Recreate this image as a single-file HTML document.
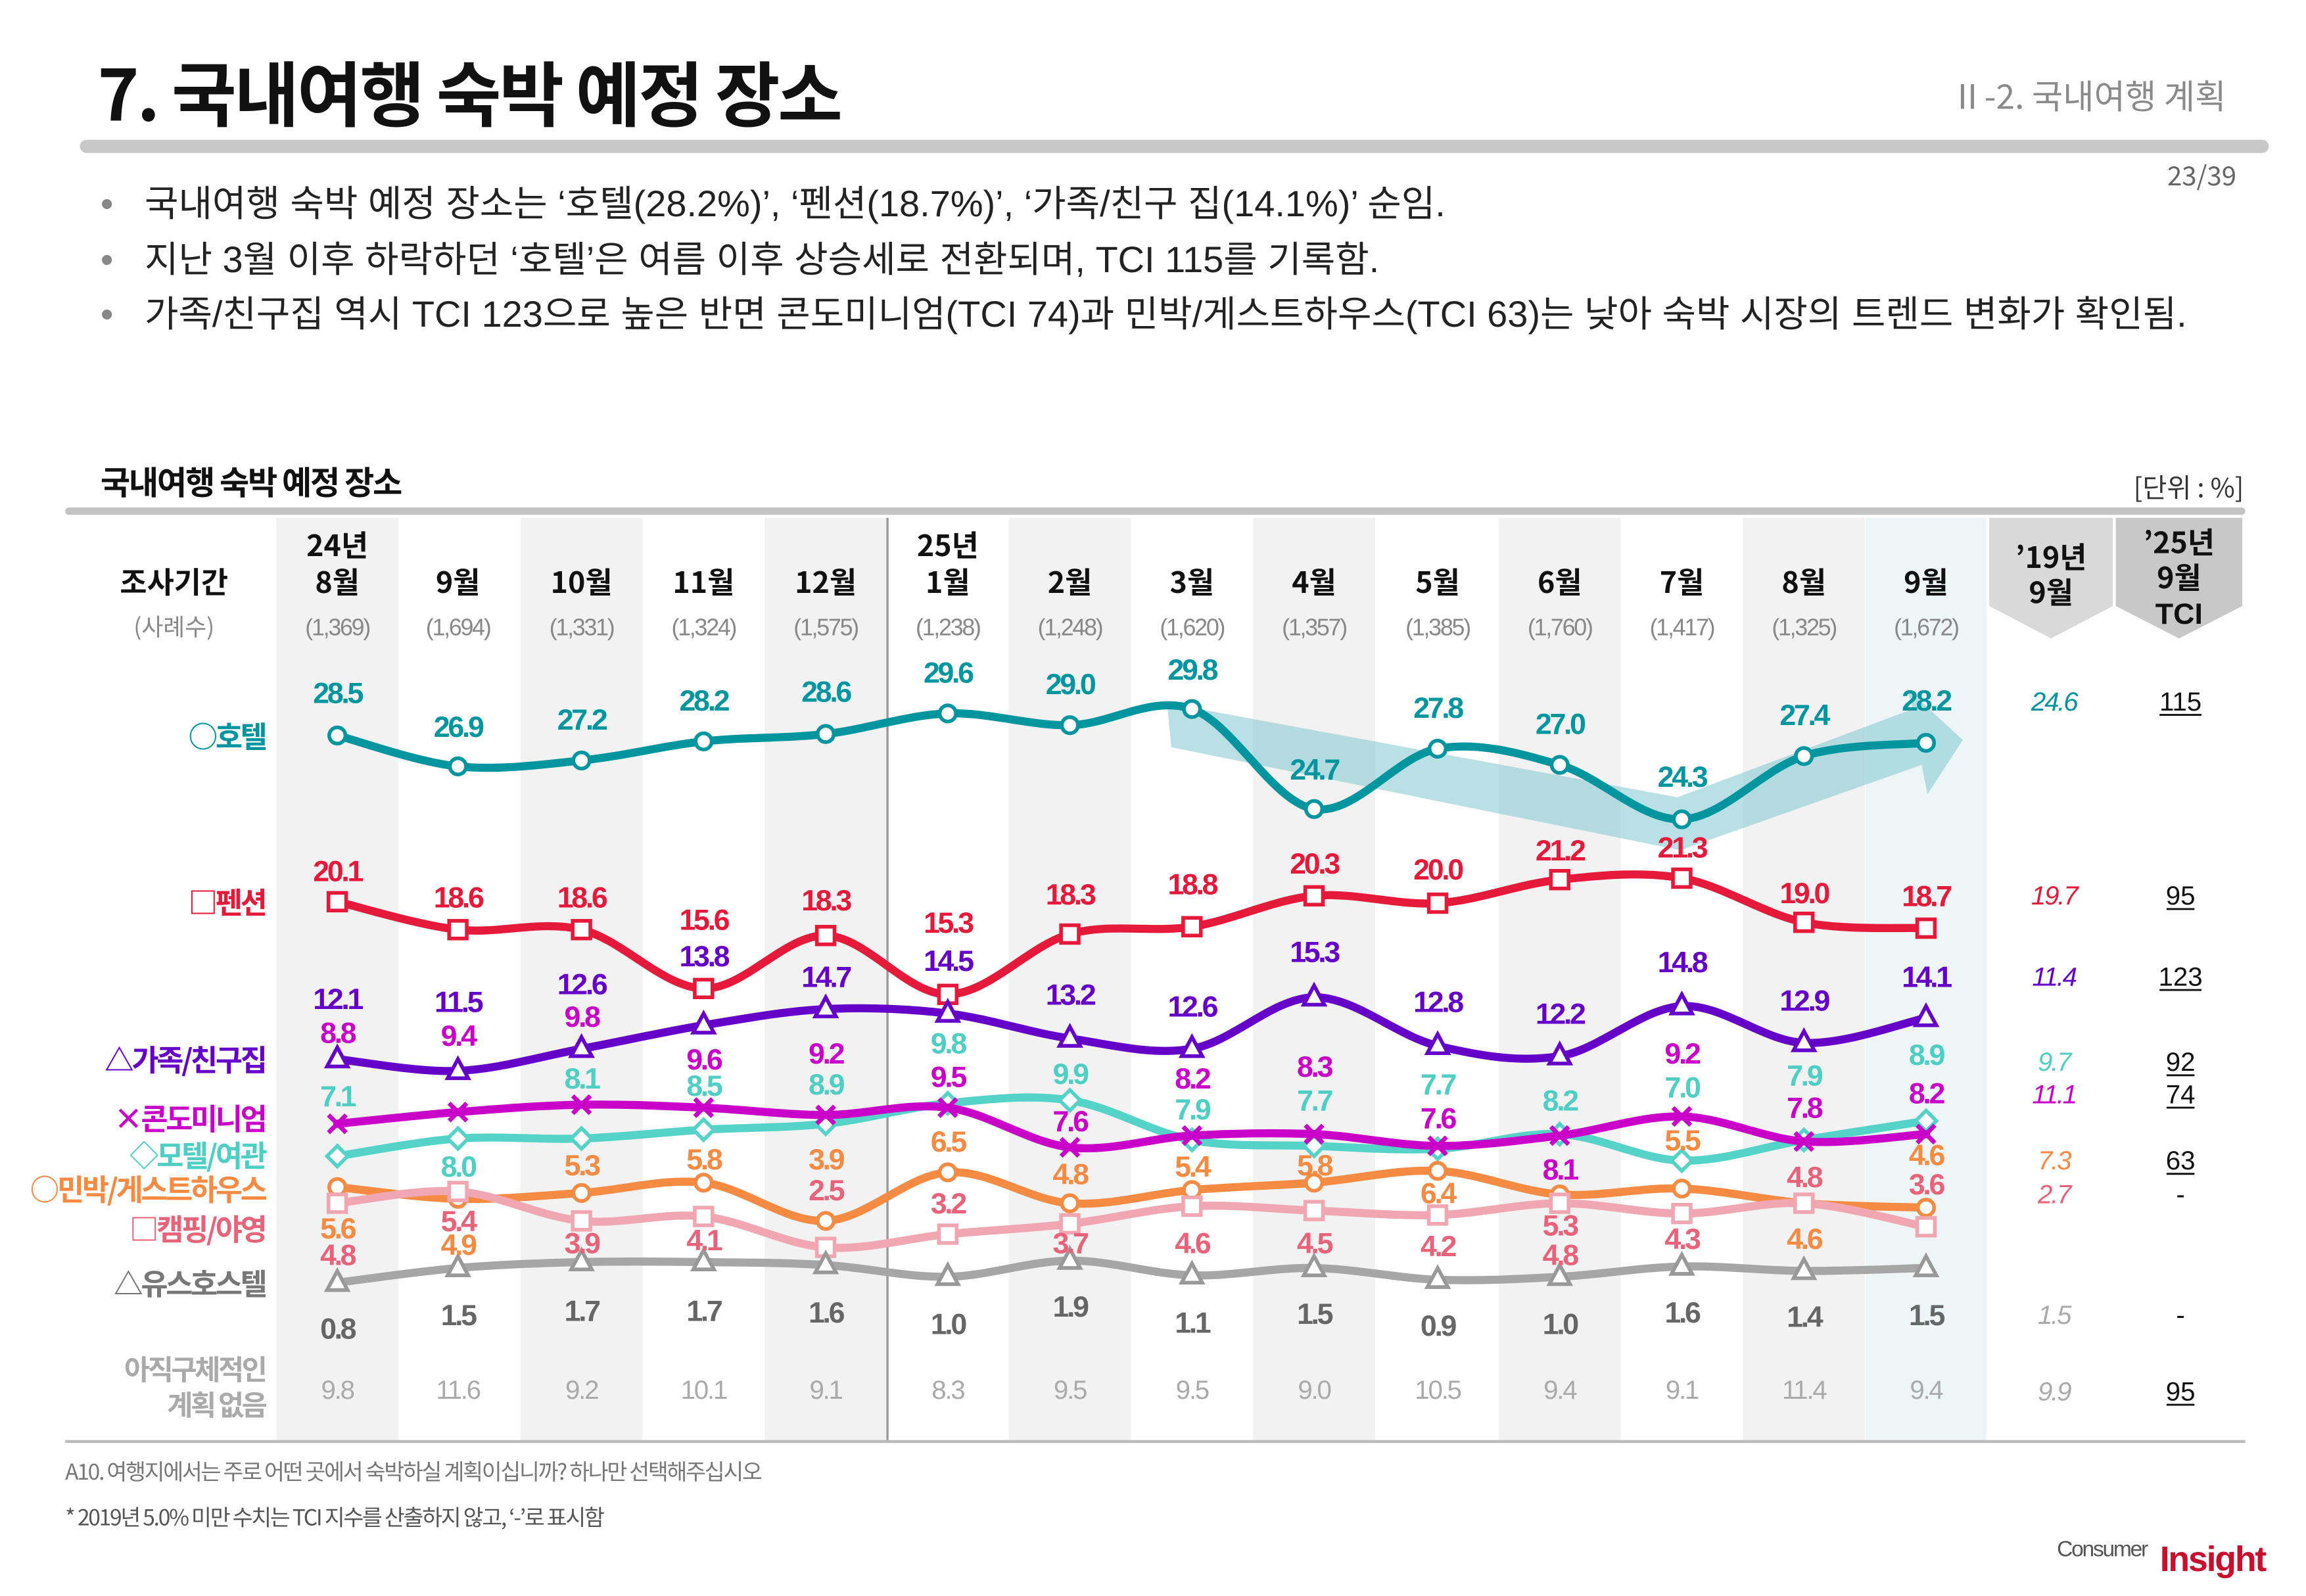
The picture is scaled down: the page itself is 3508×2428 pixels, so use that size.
<!DOCTYPE html>
<html><head><meta charset="utf-8">
<style>
html,body{margin:0;padding:0;background:#fff;}
svg{display:block;}
text{font-family:"Liberation Sans","Noto Sans CJK KR",sans-serif;}
.k{font-family:"Noto Sans CJK KR","Liberation Sans",sans-serif;}
</style></head>
<body>
<svg id="s" width="3508" height="2428" viewBox="0 0 1567 1085" xmlns="http://www.w3.org/2000/svg">
<rect width="1567" height="1085" fill="#fff"/>
<g id="bg"></g>
<text x="66" y="82" font-size="48" font-weight="bold" class="k" fill="#111" letter-spacing="-1.5">7. 국내여행 숙박 예정 장소</text>
<text x="1513" y="74" font-size="23" text-anchor="end" class="k" fill="#8a8a8a">Ⅱ-2. 국내여행 계획</text>
<rect x="54" y="95" width="1488" height="9" rx="4.5" fill="#c8c8c8"/>
<text x="1520" y="126" font-size="18" text-anchor="end" class="k" fill="#666">23/39</text>
<g class="k" font-size="25" fill="#222">
<text x="68" y="147" fill="#888">•</text><text x="98" y="147">국내여행 숙박 예정 장소는 ‘호텔(28.2%)’, ‘펜션(18.7%)’, ‘가족/친구 집(14.1%)’ 순임.</text>
<text x="68" y="185" fill="#888">•</text><text x="98" y="185">지난 3월 이후 하락하던 ‘호텔’은 여름 이후 상승세로 전환되며, TCI 115를 기록함.</text>
<text x="68" y="222" fill="#888">•</text><text x="98" y="222">가족/친구집 역시 TCI 123으로 높은 반면 콘도미니엄(TCI 74)과 민박/게스트하우스(TCI 63)는 낮아 숙박 시장의 트렌드 변화가 확인됨.</text>
</g>
<text x="68" y="336" font-size="22" font-weight="bold" class="k" fill="#111" letter-spacing="-1">국내여행 숙박 예정 장소</text>
<text x="1525" y="338" font-size="18" text-anchor="end" class="k" fill="#333">[단위 : %]</text>
<g id="g"></g>
</svg>
<script>
const NS="http://www.w3.org/2000/svg";
const bg=document.getElementById('bg'), g=document.getElementById('g');
function el(p,t,a,txt){const e=document.createElementNS(NS,t);for(const k in a)e.setAttribute(k,a[k]);if(txt!==undefined)e.textContent=txt;p.appendChild(e);return e;}
const X=[229,311,395,478,561,644,727,810,893,977,1060,1143,1226,1309];
for(let i=0;i<14;i++){
  const x0=X[i]-41.5;
  if(i==13) el(bg,'rect',{x:1268,y:352,width:82,height:628,fill:'#edf5f6'});
  else if(i%2==0) el(bg,'rect',{x:x0,y:352,width:83,height:628,fill:'#f2f2f2'});
}
el(bg,'polygon',{points:'1352,352 1436,352 1436,412 1394,434 1352,412',fill:'#d9d9d9'});
el(bg,'polygon',{points:'1438,352 1524,352 1524,412 1481,434 1438,412',fill:'#c8c8c8'});
el(bg,'rect',{x:44,y:345,width:1482,height:5,rx:2.5,fill:'#c4c4c4'});
el(bg,'line',{x1:603,y1:352,x2:603,y2:980,stroke:'#999','stroke-width':1.5});
el(bg,'line',{x1:44,y1:980,x2:1526,y2:980,stroke:'#bbb','stroke-width':2});
el(g,'text',{x:118,y:403,'font-size':20,'font-weight':'bold','text-anchor':'middle',class:'k',fill:'#111'},'조사기간');
el(g,'text',{x:118,y:432,'font-size':16,'text-anchor':'middle',class:'k',fill:'#888'},'(사례수)');
const M=['8월','9월','10월','11월','12월','1월','2월','3월','4월','5월','6월','7월','8월','9월'];
const N=['1,369','1,694','1,331','1,324','1,575','1,238','1,248','1,620','1,357','1,385','1,760','1,417','1,325','1,672'];
X.forEach((x,i)=>{
  el(g,'text',{x:x,y:403,'font-size':20,'font-weight':'bold','text-anchor':'middle',class:'k',fill:'#111'},M[i]);
  if(i==0||i==5) el(g,'text',{x:x,y:378,'font-size':20,'font-weight':'bold','text-anchor':'middle',class:'k',fill:'#111'},i==0?'24년':'25년');
  el(g,'text',{x:x,y:432,'font-size':16,'text-anchor':'middle',fill:'#888','letter-spacing':'-1'},'('+N[i]+')');
});
el(g,'text',{x:1394,y:386,'font-size':20,'font-weight':'bold','text-anchor':'middle',class:'k',fill:'#111'},'’19년');
el(g,'text',{x:1394,y:410,'font-size':20,'font-weight':'bold','text-anchor':'middle',class:'k',fill:'#111'},'9월');
el(g,'text',{x:1481,y:376,'font-size':20,'font-weight':'bold','text-anchor':'middle',class:'k',fill:'#111'},'’25년');
el(g,'text',{x:1481,y:400,'font-size':20,'font-weight':'bold','text-anchor':'middle',class:'k',fill:'#111'},'9월');
el(g,'text',{x:1481,y:424,'font-size':20,'font-weight':'bold','text-anchor':'middle',fill:'#111'},'TCI');
el(g,'polygon',{points:'793,478 1140,542 1300,482 1296,468 1334,503 1310,540 1306,520 1142,578 796,508',fill:'#7fc6cf','fill-opacity':0.55});
const S=[
 {c:'#00959f',m:'o',y:[500,521,517,504,499,485,493,482,550,509,520,557,514,505]},
 {c:'#e5193a',m:'s',y:[613,632,632,672,636,676,635,630,609,614,598,597,627,631]},
 {c:'#6500c8',m:'t',y:[720,728,713,697,686,689,706,713,678,711,718,684,709,692]},
 {c:'#55d3c8',m:'d',y:[786,774,774,768,764,750,748,775,779,781,771,789,775,762]},
 {c:'#f58a42',m:'o',y:[807,815,811,804,830,797,818,809,804,796,812,808,818,821]},
 {c:'#f1a7b2',m:'s',y:[818,810,830,827,848,839,832,820,823,826,818,825,818,834]},
 {c:'#c800c8',m:'x',y:[764,756,751,753,758,753,780,772,771,779,772,759,776,771]},
 {c:'#a6a6a6',m:'t',y:[872,862,858,858,860,868,857,867,862,870,868,861,864,862]},
];
function path(ys){let d='M'+X[0]+','+ys[0];for(let i=0;i<13;i++){const p0=[X[Math.max(i-1,0)],ys[Math.max(i-1,0)]],p1=[X[i],ys[i]],p2=[X[i+1],ys[i+1]],p3=[X[Math.min(i+2,13)],ys[Math.min(i+2,13)]];const t=6;d+=` C${p1[0]+(p2[0]-p0[0])/t},${p1[1]+(p2[1]-p0[1])/t} ${p2[0]-(p3[0]-p1[0])/t},${p2[1]-(p3[1]-p1[1])/t} ${p2[0]},${p2[1]}`;}return d;}
S.forEach(s=>{
  el(g,'path',{d:path(s.y),fill:'none',stroke:s.c,'stroke-width':5.5,'stroke-linecap':'round'});
  X.forEach((x,i)=>{const y=s.y[i];
    if(s.m=='o') el(g,'circle',{cx:x,cy:y,r:5.5,fill:'#fff',stroke:s.c,'stroke-width':2.5});
    if(s.m=='s') el(g,'rect',{x:x-6,y:y-6,width:12,height:12,fill:'#fff',stroke:s.c,'stroke-width':2.5});
    if(s.m=='t') el(g,'polygon',{points:`${x},${y-8} ${x+7},${y+5} ${x-7},${y+5}`,fill:'#fff',stroke:s.c==='#a6a6a6'?'#999':s.c,'stroke-width':2.5});
    if(s.m=='d') el(g,'polygon',{points:`${x},${y-7} ${x+7},${y} ${x},${y+7} ${x-7},${y}`,fill:'#fff',stroke:s.c,'stroke-width':2.5});
    if(s.m=='x'){el(g,'path',{d:`M${x-6},${y-6}L${x+6},${y+6}M${x+6},${y-6}L${x-6},${y+6}`,stroke:s.c,'stroke-width':3});}
  });
});
function L(c,arr){arr.forEach(a=>el(g,'text',{x:a[0],y:a[1]+7,'font-size':20,'font-weight':'bold','text-anchor':'middle',fill:c,'letter-spacing':'-1.5'},a[2]));}
const HT=[[471,'28.5'],[494,'26.9'],[489,'27.2'],[476,'28.2'],[470,'28.6'],[457,'29.6'],[465,'29.0'],[455,'29.8'],[523,'24.7'],[481,'27.8'],[492,'27.0'],[528,'24.3'],[486,'27.4'],[476,'28.2']];
L('#00959f',HT.map((a,i)=>[X[i],a[0],a[1]]));
const PE=[[592,'20.1'],[610,'18.6'],[610,'18.6'],[625,'15.6'],[612,'18.3'],[627,'15.3'],[608,'18.3'],[601,'18.8'],[587,'20.3'],[591,'20.0'],[578,'21.2'],[576,'21.3'],[607,'19.0'],[609,'18.7']];
L('#e5193a',PE.map((a,i)=>[X[i],a[0],a[1]]));
const FA=[[679,'12.1'],[681,'11.5'],[669,'12.6'],[650,'13.8'],[664,'14.7'],[653,'14.5'],[676,'13.2'],[684,'12.6'],[647,'15.3'],[681,'12.8'],[689,'12.2'],[654,'14.8'],[680,'12.9'],[664,'14.1']];
L('#6500c8',FA.map((a,i)=>[X[i],a[0],a[1]]));
const CO=[[702,'8.8'],[704,'9.4'],[691,'9.8'],[720,'9.6'],[716,'9.2'],[732,'9.5'],[762,'7.6'],[733,'8.2'],[725,'8.3'],[760,'7.6'],[795,'8.1'],[716,'9.2'],[753,'7.8'],[743,'8.2']];
L('#c800c8',CO.map((a,i)=>[X[i],a[0],a[1]]));
const MO=[[745,'7.1'],[793,'8.0'],[733,'8.1'],[738,'8.5'],[737,'8.9'],[709,'9.8'],[730,'9.9'],[754,'7.9'],[748,'7.7'],[737,'7.7'],[748,'8.2'],[739,'7.0'],[731,'7.9'],[717,'8.9']];
L('#4fcfc4',MO.map((a,i)=>[X[i],a[0],a[1]]));
const OR='#f58a42',PK='#e8637a';
const MC=[[835,'5.6',OR],[853,'4.8',PK],[830,'5.4',PK],[846,'4.9',OR],[792,'5.3',OR],[845,'3.9',PK],[788,'5.8',OR],[843,'4.1',PK],[788,'3.9',OR],[809,'2.5',PK],[776,'6.5',OR],[818,'3.2',PK],[798,'4.8',OR],[845,'3.7',PK],[793,'5.4',OR],[845,'4.6',PK],[792,'5.8',OR],[845,'4.5',PK],[811,'6.4',OR],[847,'4.2',PK],[833,'5.3',PK],[853,'4.8',PK],[775,'5.5',OR],[842,'4.3',PK],[800,'4.8',PK],[842,'4.6',OR],[785,'4.6',OR],[805,'3.6',PK]];
MC.forEach((a,j)=>L(a[2],[[X[Math.floor(j/2)],a[0],a[1]]]));
const YO=[[903,'0.8'],[894,'1.5'],[891,'1.7'],[891,'1.7'],[892,'1.6'],[900,'1.0'],[888,'1.9'],[899,'1.1'],[893,'1.5'],[901,'0.9'],[900,'1.0'],[892,'1.6'],[895,'1.4'],[894,'1.5']];
L('#666',YO.map((a,i)=>[X[i],a[0],a[1]]));
['9.8','11.6','9.2','10.1','9.1','8.3','9.5','9.5','9.0','10.5','9.4','9.1','11.4','9.4'].forEach((v,i)=>el(g,'text',{x:X[i],y:951,'font-size':18,'text-anchor':'middle',fill:'#aaa','letter-spacing':'-1'},v));
const LG=[[500,'○호텔','#00959f'],[613,'□펜션','#e5193a'],[720,'△가족/친구집','#6500c8'],[760,'×콘도미니엄','#c800c8'],[785,'◇모텔/여관','#4fcfc4'],[808,'○민박/게스트하우스','#f58a42'],[835,'□캠핑/야영','#e8637a'],[872,'△유스호스텔','#777']];
LG.forEach(a=>el(g,'text',{x:180,y:a[0]+8,'font-size':20,'font-weight':'bold','text-anchor':'end',class:'k',fill:a[2],'letter-spacing':'-1.5'},a[1]));
el(g,'text',{x:180,y:938,'font-size':19,'font-weight':'bold','text-anchor':'end',class:'k',fill:'#aaa','letter-spacing':'-1.5'},'아직구체적인');
el(g,'text',{x:180,y:962,'font-size':19,'font-weight':'bold','text-anchor':'end',class:'k',fill:'#aaa','letter-spacing':'-1.5'},'계획 없음');
const R=[[476,'24.6','#00959f','115'],[608,'19.7','#e5193a','95'],[663,'11.4','#6500c8','123'],[721,'9.7','#4fcfc4','92'],[743,'11.1','#c800c8','74'],[788,'7.3','#f58a42','63'],[811,'2.7','#e8637a','-'],[893,'1.5','#aaa','-'],[945,'9.9','#aaa','95']];
R.forEach(a=>{
  el(g,'text',{x:1396,y:a[0]+7,'font-size':18,'font-style':'italic','text-anchor':'middle',fill:a[2],'letter-spacing':'-1'},a[1]);
  el(g,'text',{x:1482,y:a[0]+7,'font-size':18,'text-anchor':'middle',fill:'#111'},a[3]);
  if(a[3]!='-'){const w=a[3].length*9.5;el(g,'line',{x1:1482-w/2,y1:a[0]+10,x2:1482+w/2,y2:a[0]+10,stroke:'#111','stroke-width':1.3});}
});
el(g,'text',{x:44,y:1006,'font-size':15,class:'k',fill:'#777','letter-spacing':'-1'},'A10. 여행지에서는 주로 어떤 곳에서 숙박하실 계획이십니까? 하나만 선택해주십시오');
el(g,'text',{x:44,y:1037,'font-size':15,class:'k',fill:'#555','letter-spacing':'-1'},'* 2019년 5.0% 미만 수치는 TCI 지수를 산출하지 않고, ‘-’로 표시함');
el(g,'text',{x:1398,y:1058,'font-size':15,fill:'#555','letter-spacing':'-1'},'Consumer');
el(g,'text',{x:1468,y:1068,'font-size':24,'font-weight':'bold',fill:'#c8102e','letter-spacing':'-1'},'Insight');
</script>
</body></html>
